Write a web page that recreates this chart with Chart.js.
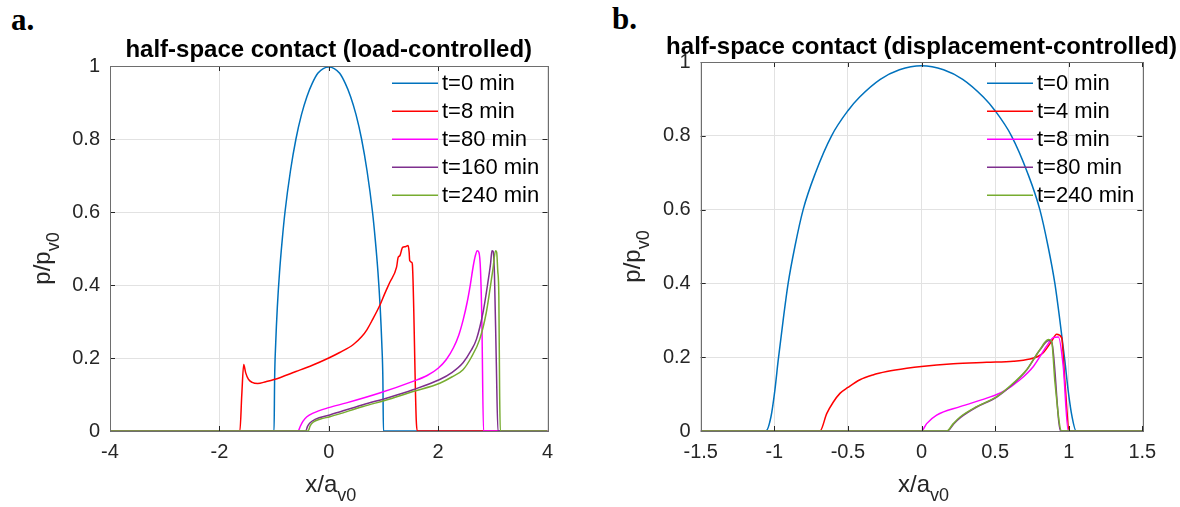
<!DOCTYPE html>
<html>
<head>
<meta charset="UTF-8">
<title>half-space contact</title>
<script src="https://cdn.jsdelivr.net/npm/chart.js@4.4.1/dist/chart.umd.min.js"></script>
<style>
  body { margin: 0; background: #fff; width: 1180px; height: 507px; position: relative; overflow: hidden; }
  .panel { position: absolute; top: 0; width: 590px; height: 507px; }
  .tag { position: absolute; font-family: "Liberation Serif", "Times New Roman", serif; font-weight: bold; font-size: 31px; line-height: 31px; color: #000; }
</style>
</head>
<body>
<div class="tag" style="left:11px; top:4px;">a.</div>
<div class="tag" style="left:612px; top:3px;">b.</div>
<div class="panel" style="left:0;"><canvas id="chartA" width="590" height="507"></canvas></div>
<div class="panel" style="left:590px;"><canvas id="chartB" width="590" height="507"></canvas></div>

<script>
// ---- data: [x/a_v0, p/p_v0] ----

// (a) load-controlled
const loadLabels = ['t=0 min', 't=8 min', 't=80 min', 't=160 min', 't=240 min'];
const loadT0 = [[-4,0],[-1.0,0],[-0.99,0.14],[-0.97,0.24],[-0.94,0.34],[-0.9,0.435],[-0.85,0.525],[-0.8,0.6],
  [-0.7,0.713],[-0.6,0.8],[-0.5,0.866],[-0.4,0.916],[-0.3,0.953],[-0.2,0.98],[-0.1,0.993],[0,0.997],
  [0.1,0.993],[0.2,0.98],[0.3,0.953],[0.4,0.916],[0.5,0.866],[0.6,0.8],[0.7,0.713],[0.8,0.6],
  [0.85,0.525],[0.9,0.435],[0.94,0.34],[0.97,0.24],[0.99,0.14],[1.0,0],[4,0]];
const loadT8 = [[-4,0],[-1.625,0],[-1.59,0.1],[-1.555,0.182],[-1.52,0.16],[-1.47,0.142],[-1.4,0.133],
  [-1.3,0.13],[-1.15,0.135],[-1.0,0.141],[-0.6,0.163],[-0.3,0.18],[0,0.2],[0.2,0.215],[0.45,0.237],
  [0.6,0.258],[0.7,0.278],[0.8,0.305],[0.93,0.343],[1.02,0.375],[1.115,0.407],[1.24,0.449],[1.27,0.476],
  [1.3,0.48],[1.35,0.503],[1.4,0.505],[1.45,0.508],[1.47,0.49],[1.48,0.467],[1.52,0.462],[1.53,0.455],
  [1.6,0.03],[1.62,0],[4,0]];
const loadT80 = [[-4,0],[-0.56,0],[-0.52,0.013],[-0.47,0.027],[-0.4,0.039],[-0.286,0.049],[0,0.064],
  [0.324,0.077],[0.93,0.104],[1.54,0.136],[1.8,0.152],[2.0,0.172],[2.15,0.196],[2.28,0.228],[2.38,0.264],
  [2.46,0.306],[2.53,0.352],[2.59,0.402],[2.64,0.45],[2.68,0.48],[2.715,0.494],[2.745,0.49],[2.775,0.44],
  [2.8,0.3],[2.83,0],[4,0]];
const loadT160 = [[-4,0],[-0.42,0],[-0.39,0.012],[-0.35,0.021],[-0.25,0.032],[0.019,0.044],[0.627,0.072],
  [1.1,0.092],[1.54,0.113],[2.03,0.141],[2.25,0.16],[2.455,0.187],[2.6,0.22],[2.70,0.251],[2.82,0.324],
  [2.91,0.407],[2.96,0.46],[2.984,0.494],[3.005,0.492],[3.03,0.43],[3.064,0.187],[3.094,0],[4,0]];
const loadT240 = [[-4,0],[-0.377,0],[-0.34,0.014],[-0.286,0.024],[-0.15,0.033],[0.019,0.039],[0.627,0.067],
  [1.1,0.087],[1.54,0.108],[2.03,0.131],[2.25,0.148],[2.455,0.168],[2.6,0.2],[2.76,0.251],[2.88,0.324],
  [2.95,0.39],[3.003,0.444],[3.05,0.494],[3.07,0.49],[3.09,0.44],[3.11,0.37],[3.125,0.1],[3.137,0],[4,0]];

// (b) displacement-controlled
const dispLabels = ['t=0 min', 't=4 min', 't=8 min', 't=80 min', 't=240 min'];
const dispT0 = [[-1.5,0],[-1.057,0],[-1.023,0.038],[-0.996,0.111],[-0.974,0.19],[-0.94,0.3],[-0.906,0.4],
  [-0.86,0.5],[-0.804,0.6],[-0.72,0.7],[-0.611,0.8],[-0.5,0.868],[-0.42,0.905],[-0.28,0.953],[-0.15,0.979],
  [0,0.99],[0.15,0.979],[0.28,0.953],[0.42,0.905],[0.5,0.868],[0.611,0.8],[0.72,0.7],[0.804,0.6],[0.86,0.5],
  [0.906,0.4],[0.94,0.3],[0.974,0.19],[0.996,0.111],[1.023,0.038],[1.05,0],[1.5,0]];
const dispT4 = [[-1.5,0],[-0.69,0],[-0.644,0.047],[-0.6,0.078],[-0.554,0.102],[-0.5,0.118],[-0.418,0.139],
  [-0.33,0.152],[-0.236,0.161],[-0.1,0.17],[0,0.175],[0.216,0.182],[0.443,0.186],[0.624,0.189],
  [0.737,0.195],[0.79,0.202],[0.827,0.212],[0.884,0.243],[0.918,0.262],[0.952,0.253],[0.975,0.13],
  [1.004,0],[1.5,0]];
const dispT8 = [[-1.5,0],[0,0],[0.035,0.02],[0.103,0.043],[0.262,0.066],[0.443,0.089],[0.556,0.107],
  [0.669,0.139],[0.76,0.175],[0.85,0.23],[0.895,0.253],[0.93,0.255],[0.963,0.175],[0.997,0],[1.5,0]];
const dispT80 = [[-1.5,0],[0.175,0],[0.22,0.02],[0.266,0.037],[0.375,0.065],[0.511,0.092],[0.624,0.128],
  [0.714,0.165],[0.805,0.22],[0.865,0.245],[0.885,0.24],[0.945,0],[1.5,0]];
const dispT240 = [[-1.5,0],[0.171,0],[0.216,0.02],[0.262,0.038],[0.375,0.066],[0.511,0.093],[0.624,0.13],
  [0.714,0.166],[0.805,0.221],[0.861,0.248],[0.884,0.243],[0.907,0.13],[0.952,0],[1.5,0]];

const yTicks = [0, 0.2, 0.4, 0.6, 0.8, 1];

// MATLAB-ish line colours
const lineColors = ['#0072BD', '#FF0000', '#FF00FF', '#7E2F8E', '#77AC30'];

const FONT = '"Liberation Sans", Arial, Helvetica, sans-serif';
const INK = '#262626';

// title, box, inward ticks, transparent legend and sub-scripted axis titles
const matlabAxes = {
  id: 'matlabAxes',
  afterDraw(chart, args, o) {
    const { ctx, chartArea: a, scales: { x, y } } = chart;
    ctx.save();

    // inward tick marks on all four sides
    ctx.strokeStyle = INK;
    ctx.lineWidth = 1;
    ctx.beginPath();
    x.ticks.forEach(t => {
      const px = Math.round(x.getPixelForValue(t.value)) + 0.5;
      ctx.moveTo(px, a.bottom); ctx.lineTo(px, a.bottom - 5);
      ctx.moveTo(px, a.top); ctx.lineTo(px, a.top + 5);
    });
    y.ticks.forEach(t => {
      const py = Math.round(y.getPixelForValue(t.value)) + 0.5;
      ctx.moveTo(a.left, py); ctx.lineTo(a.left + 5, py);
      ctx.moveTo(a.right, py); ctx.lineTo(a.right - 5, py);
    });
    ctx.stroke();

    // axes box
    ctx.strokeStyle = '#6e6e6e';
    ctx.strokeRect(Math.round(a.left) + 0.5, Math.round(a.top) + 0.5,
      Math.round(a.right - a.left), Math.round(a.bottom - a.top));

    // title (drawn here so it is not squeezed to the plot width)
    ctx.fillStyle = '#000';
    ctx.font = 'bold 24px ' + FONT;
    ctx.textAlign = 'center';
    ctx.textBaseline = 'middle';
    ctx.fillText(o.title, (a.left + a.right) / 2, o.titleY);

    // legend (no box, no background)
    ctx.font = '22px ' + FONT;
    ctx.textAlign = 'left';
    chart.data.datasets.forEach((ds, i) => {
      const ly = o.legendTop + i * o.legendRow;
      ctx.strokeStyle = ds.borderColor;
      ctx.lineWidth = 1.5;
      ctx.beginPath();
      ctx.moveTo(o.legendX, ly); ctx.lineTo(o.legendX + 46, ly);
      ctx.stroke();
      ctx.fillStyle = '#000';
      ctx.fillText(ds.label, o.legendX + 50, ly + 1);
    });

    // axis titles with subscripts
    const mainF = '24px ' + FONT, subF = '18px ' + FONT;
    ctx.fillStyle = INK;
    ctx.textBaseline = 'alphabetic';
    const drawSub = (main, sub, x0, y0) => {
      ctx.font = mainF; const w1 = ctx.measureText(main).width;
      ctx.font = subF; const w2 = ctx.measureText(sub).width;
      const sx = x0 - (w1 + w2) / 2;
      ctx.font = mainF; ctx.fillText(main, sx, y0);
      ctx.font = subF; ctx.fillText(sub, sx + w1, y0 + 9);
    };
    drawSub(o.xTitle[0], o.xTitle[1], (a.left + a.right) / 2 + 2, a.bottom + 61);
    ctx.save();
    ctx.translate(o.yTitleX, (a.top + a.bottom) / 2 + 10);
    ctx.rotate(-Math.PI / 2);
    drawSub(o.yTitle[0], o.yTitle[1], 0, 0);
    ctx.restore();

    ctx.restore();
  }
};

const tickText = v => String(+Number(v).toFixed(2));

function makePanel(id, title, labels, series, xMin, xMax, xStep, geo) {
  return new Chart(document.getElementById(id), {
    type: 'scatter',
    data: {
      datasets: series.map((s, i) => ({
        label: labels[i],
        data: s.map(p => ({ x: p[0], y: p[1] })),
        showLine: true,
        borderColor: lineColors[i],
        backgroundColor: lineColors[i],
        borderWidth: 1.5,
        pointRadius: 0,
        cubicInterpolationMode: 'monotone',
        order: series.length - i
      }))
    },
    options: {
      responsive: false,
      animation: false,
      events: [],
      layout: { padding: { left: 0, right: geo.right, top: geo.top, bottom: 0 } },
      scales: {
        x: {
          type: 'linear', min: xMin, max: xMax,
          afterFit: s => { s.height = 507 - 431; },
          ticks: { stepSize: xStep, color: INK, padding: 9, font: { family: FONT, size: 20 }, callback: tickText },
          grid: { color: '#e2e2e2', drawTicks: false },
          border: { display: false }
        },
        y: {
          type: 'linear', min: 0, max: 1,
          afterFit: s => { s.width = geo.left; },
          afterBuildTicks: s => { s.ticks = yTicks.map(v => ({ value: v })); },
          ticks: { color: INK, padding: 10, font: { family: FONT, size: 20 }, callback: tickText },
          grid: { color: '#e2e2e2', drawTicks: false },
          border: { display: false }
        }
      },
      plugins: {
        legend: { display: false },
        tooltip: { enabled: false },
        title: { display: false },
        matlabAxes: {
          title: title, titleY: geo.titleY,
          legendX: geo.legendX, legendTop: 83.3, legendRow: 28,
          xTitle: ['x/a', 'v0'], yTitle: ['p/p', 'v0'], yTitleX: 50
        }
      }
    },
    plugins: [matlabAxes]
  });
}

makePanel('chartA', 'half-space contact (load-controlled)', loadLabels,
  [loadT0, loadT8, loadT80, loadT160, loadT240], -4, 4, 2,
  { left: 110, right: 42.5, top: 66, titleY: 50.5, legendX: 392 });

makePanel('chartB', 'half-space contact (displacement-controlled)', dispLabels,
  [dispT0, dispT4, dispT8, dispT80, dispT240], -1.5, 1.5, 0.5,
  { left: 110.7, right: 37.7, top: 62, titleY: 47.5, legendX: 397 });
</script>
</body>
</html>
